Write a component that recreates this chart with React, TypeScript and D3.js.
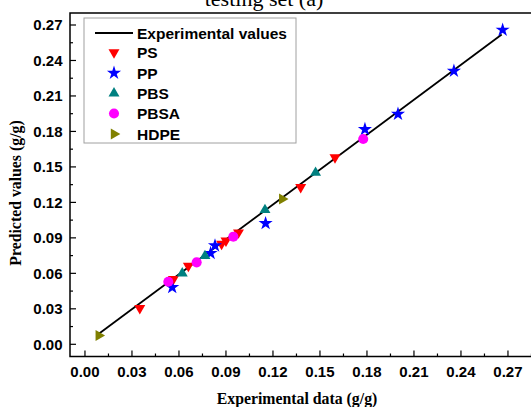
import React from "react";
import * as d3 from "d3";

const W = 531;
const H = 407;

const xTicks = [0, 0.03, 0.06, 0.09, 0.12, 0.15, 0.18, 0.21, 0.24, 0.27];
const yTicks = [0, 0.03, 0.06, 0.09, 0.12, 0.15, 0.18, 0.21, 0.24, 0.27];

const lineData: [number, number][] = [[0.008, 0.008], [0.266, 0.262]];

const psData: [number, number][] = [
  [0.035, 0.0305], [0.0564, 0.055], [0.066, 0.0662], [0.0872, 0.0848], [0.09, 0.0876],
  [0.098, 0.0945], [0.1377, 0.1328], [0.1596, 0.1581],
];
const ppData: [number, number][] = [
  [0.0557, 0.0482], [0.0802, 0.077], [0.083, 0.0834], [0.1153, 0.1023],
  [0.1787, 0.1818], [0.1998, 0.1947], [0.2355, 0.2311], [0.2666, 0.2658],
];
const pbsData: [number, number][] = [
  [0.0621, 0.06], [0.0766, 0.0747], [0.1149, 0.1136], [0.1472, 0.1451],
];
const pbsaData: [number, number][] = [
  [0.0532, 0.0529], [0.0713, 0.0693], [0.0947, 0.091], [0.1776, 0.1736],
];
const hdpeData: [number, number][] = [
  [0.0088, 0.0075], [0.1259, 0.1229],
];

const legendLabels = ["Experimental values", "PS", "PP", "PBS", "PBSA", "HDPE"];

export default function App() {
  const x = d3.scaleLinear().domain([-0.01, 0.29]).range([69.3, 539.3]);
  const y = d3.scaleLinear().domain([0, 0.27]).range([344.3, 25]);
  const left = 70, top = 13, bottom = 356.5;
  const line = d3.line<[number, number]>().x(d => x(d[0])).y(d => y(d[1]));

  const tri = d3.symbol().type(d3.symbolTriangle).size(52)()!;
  const star = d3.symbol().type(d3.symbolStar).size(62)()!;
  const circ = d3.symbol().type(d3.symbolCircle).size(80)()!;

  const series = [
    { data: psData, color: "#ff0000", path: tri, rot: 180 },
    { data: ppData, color: "#0000ff", path: star, rot: 0 },
    { data: pbsData, color: "#008080", path: tri, rot: 0 },
    { data: pbsaData, color: "#ff00ff", path: circ, rot: 0 },
    { data: hdpeData, color: "#808000", path: tri, rot: 90 },
  ];

  const xMinor = d3.range(0, 0.29, 0.015);
  const yMinor = d3.range(0, 0.28, 0.015);
  const legY = [33, 52.5, 73, 93.3, 113.5, 134];

  return (
    <svg width={W} height={H} style={{ position: "absolute", left: 0, top: 0, background: "#fff" }}>
      <text x={264} y={6} textAnchor="middle" fontFamily="Liberation Serif" fontSize={22}>testing set (a)</text>
      {/* data line */}
      <path d={line(lineData)!} fill="none" stroke="#000" strokeWidth={1.8} />
      {series.map((s, i) =>
        s.data.map((d, j) => (
          <path key={`${i}-${j}`} d={s.path} fill={s.color}
            transform={`translate(${x(d[0])},${y(d[1])}) rotate(${s.rot})`} />
        ))
      )}
      {/* frame */}
      <path d={`M${W + 5},${top} H${left} V${bottom} H${W + 5}`} fill="none" stroke="#000" strokeWidth={1.5} />
      {/* x ticks */}
      {xMinor.map((t, i) => (
        <line key={"xm" + i} x1={x(t)} x2={x(t)} y1={bottom} y2={bottom - (i % 2 === 0 ? 6 : 3)} stroke="#000" strokeWidth={1.2} />
      ))}
      {yMinor.map((t, i) => (
        <line key={"ym" + i} x1={left} x2={left + (i % 2 === 0 ? 6 : 3)} y1={y(t)} y2={y(t)} stroke="#000" strokeWidth={1.2} />
      ))}
      {xTicks.map((t, i) => (
        <text key={"xt" + i} x={x(t)} y={376.5} textAnchor="middle" fontFamily="Liberation Sans" fontWeight="bold" fontSize={15}>{t.toFixed(2)}</text>
      ))}
      {yTicks.map((t, i) => (
        <text key={"yt" + i} x={62.5} y={y(t)} dy="0.36em" textAnchor="end" fontFamily="Liberation Sans" fontWeight="bold" fontSize={15}>{t.toFixed(2)}</text>
      ))}
      <text x={297} y={403.5} textAnchor="middle" fontFamily="Liberation Serif" fontWeight="bold" fontSize={15.8}>Experimental data (g/g)</text>
      <text transform="translate(21,193) rotate(-90)" textAnchor="middle" fontFamily="Liberation Serif" fontWeight="bold" fontSize={15.8}>Predicted values (g/g)</text>
      {/* legend */}
      <rect x={84} y={18} width={212} height={125} fill="#fff" stroke="#a0a0a0" strokeWidth={1} />
      <line x1={95} x2={133} y1={legY[0]} y2={legY[0]} stroke="#000" strokeWidth={1.8} />
      {series.map((s, i) => (
        <path key={"lg" + i} d={s.path} fill={s.color} transform={`translate(114,${legY[i + 1]}) rotate(${s.rot})`} />
      ))}
      {legendLabels.map((l, i) => (
        <text key={"ll" + i} x={137} y={legY[i]} dy="0.36em" fontFamily="Liberation Sans" fontWeight="bold" fontSize={15.5}>{l}</text>
      ))}
    </svg>
  );
}
